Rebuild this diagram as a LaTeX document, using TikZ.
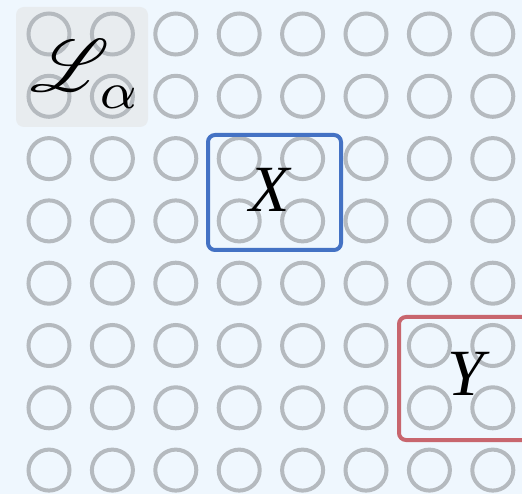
\documentclass[tikz,border=0pt]{standalone}
\usepackage{fontspec}
\usepackage{mathrsfs}
\newfontfamily\timesfont{Liberation Serif}
\usetikzlibrary{positioning}
\definecolor{bgblue}{RGB}{239, 247, 254}
\definecolor{dotgray}{RGB}{181, 186, 191}
\definecolor{tagshade}{RGB}{232, 236, 239}
\definecolor{xblue}{RGB}{68, 114, 196}
\definecolor{yred}{RGB}{200, 102, 110}

\begin{document}
\begin{tikzpicture}[x=1pt, y=-1pt,
    cell/.style={circle, draw=dotgray, line width=4pt, minimum size=41pt, inner sep=0pt},
    region/.style={draw, rounded corners=7pt, line width=4pt, minimum width=133pt, inner sep=0pt},
    letter/.style={font=\fontsize{66}{66}\timesfont\itshape, inner sep=0pt}]
    \useasboundingbox (0,0) rectangle (522,494);
    \clip (0,0) rectangle (522,494);
    \fill[bgblue] (0,0) rectangle (522,494);

    % Shaded corner behind the loss
    \fill[tagshade, rounded corners=8pt] (16,7) rectangle (148,127);

    % Grid of units
    \foreach \i in {0,...,7} {
        \foreach \j in {0,...,7} {
            \node[cell] (c\i\j) at ({49+63.4*\i}, {34+62.3*\j}) {};
        }
    }

    % Regions
    \node[region, draw=xblue, minimum height=115pt] (xbox) at (274.5, 192.5) {};
    \node[region, draw=yred, minimum height=123pt] (ybox) at (465.5, 378.5) {};

    % Labels
    \node[letter] (xlab) at (270, 190) {X};
    \node[letter] (ylab) at (466, 374) {Y};
    \node[scale=7.4, inner sep=0pt] (loss) at (86, 74) {$\mathscr{L}_{\kern0.5pt\raisebox{-0.8pt}{$\scriptstyle\alpha$}}$};
\end{tikzpicture}
\end{document}
